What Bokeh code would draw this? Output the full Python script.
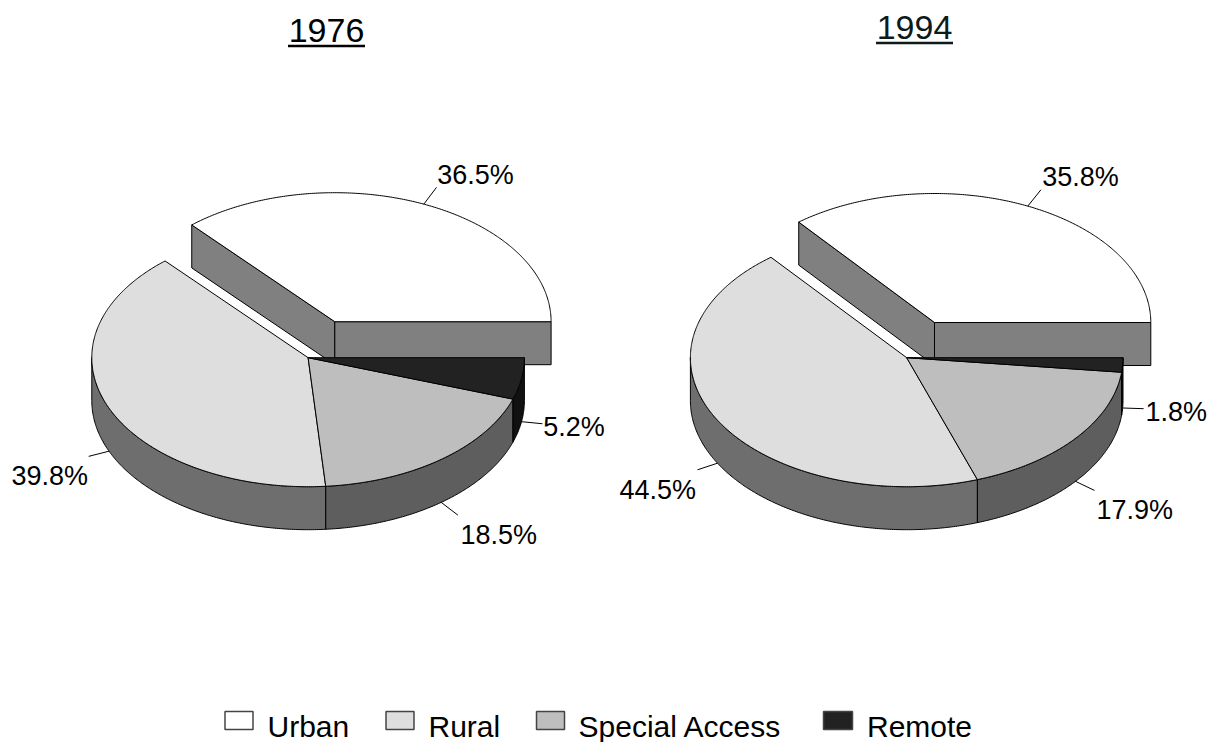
import numpy as np
from bokeh.core.properties import value
from bokeh.embed import file_html
from bokeh.models import Range1d
from bokeh.plotting import figure
from bokeh.resources import INLINE

# ---- data ----
SERIES = ["Urban", "Rural", "Special Access", "Remote"]
YEARS = ["1976", "1994"]
SHARES_1976 = [36.5, 39.8, 18.5, 5.2]
SHARES_1994 = [35.8, 44.5, 17.9, 1.8]
TOP_COLORS = ["#ffffff", "#dedede", "#bebebe", "#222222"]
SIDE_COLORS = ["#808080", "#6e6e6e", "#5e5e5e", "#111111"]

# ---- layout (page pixels) ----
RX, RY, DEPTH = 216.3, 129, 43
LEADER = 21
FONT = value("Liberation Sans")
PIES = [
    dict(center=(307.6, 357.2), exploded=(334.3, 321.2), shares=SHARES_1976,
         label_at=[(436.7, 184), (11, 485), (460, 544.5), (542.7, 435.7)],
         title_x=326, title_base=42, rule=(287.5, 364.5, 45.5), title_color="#000000"),
    dict(center=(906.2, 357.2), exploded=(934.0, 322), shares=SHARES_1994,
         label_at=[(1041.7, 186), (619, 499.3), (1096, 519), (1145, 420.7)],
         title_x=914, title_base=39, rule=(875.5, 952.5, 42.5), title_color="#0d1a1a"),
]
LEGEND_SWATCH = [(224.5, 252.5), (385.5, 413.5), (536, 564), (823, 852)]
LEGEND_TEXT = [267, 428, 578, 866.5]
LEGEND_Y = (711, 729)
LEGEND_BASE = 736.5
CAP = 0.358  # half the cap height, in em: glyphs are placed by their middle

p = figure(width=1210, height=742, output_backend="svg", toolbar_location=None,
           x_range=Range1d(0, 1210), y_range=Range1d(742, 0),
           x_axis_location=None, y_axis_location=None, min_border=0,
           outline_line_color=None, background_fill_color="white")
p.grid.visible = False


def put_text(x, base, s, size, color="black", align="left"):
    p.text([x], [base - CAP * size], text=[s], text_font=FONT,
           text_font_size=f"{size}px", text_color=color,
           text_align=align, text_baseline="middle")


def arc(c, a0, a1, drop=0.0):
    t = np.radians(np.linspace(a0, a1, max(int(abs(a1 - a0) * 2), 2)))
    return c[0] + RX * np.cos(t), c[1] - RY * np.sin(t) + drop


def poly(xs, ys, color):
    p.patch(list(xs), list(ys), fill_color=color, line_color="black", line_width=1,
            line_join="round")


def draw_pie(pie):
    shares = pie["shares"]
    edges = np.concatenate([[0.0], np.cumsum(shares) * 3.6])
    edges[-1] = 360.0
    c, e = pie["center"], pie["exploded"]

    # exploded Urban wedge: two radial walls and its top
    for ang in (edges[1], 0.0):
        ax, ay = arc(e, ang, ang)
        ex, ey = ax[0], ay[0]
        poly([e[0], ex, ex, e[0]], [e[1], ey, ey + DEPTH, e[1] + DEPTH], SIDE_COLORS[0])
    ax, ay = arc(e, 0.0, edges[1])
    poly(np.r_[e[0], ax], np.r_[e[1], ay], TOP_COLORS[0])

    # rim of the remaining wedges, lower half only
    for i in range(1, len(shares)):
        a0, a1 = max(edges[i], 180.0), edges[i + 1]
        tx, ty = arc(c, a0, a1)
        bx, by = arc(c, a1, a0, DEPTH)
        poly(np.r_[tx, bx], np.r_[ty, by], SIDE_COLORS[i])

    # tops of the remaining wedges
    for i in range(1, len(shares)):
        ax, ay = arc(c, edges[i], edges[i + 1])
        poly(np.r_[c[0], ax], np.r_[c[1], ay], TOP_COLORS[i])

    # leaders and labels
    for i, s in enumerate(shares):
        mid = (edges[i] + edges[i + 1]) / 2
        org = e if i == 0 else c
        drop = 0 if i == 0 else DEPTH
        dx, dy = RX * np.cos(np.radians(mid)), -RY * np.sin(np.radians(mid))
        n = np.hypot(dx, dy)
        x0, y0 = org[0] + dx, org[1] + dy + drop
        p.line([x0, x0 + dx / n * LEADER], [y0, y0 + dy / n * LEADER],
               line_color="black", line_width=1)
        lx, ly = pie["label_at"][i]
        put_text(lx, ly, f"{s:.1f}%", 27)


for pie, year in zip(PIES, YEARS):
    draw_pie(pie)
    put_text(pie["title_x"], pie["title_base"], year, 34, pie["title_color"], "center")
    x0, x1, y = pie["rule"]
    p.line([x0, x1], [y, y], line_color=pie["title_color"], line_width=2.5)

for name, col, (x0, x1), tx in zip(SERIES, TOP_COLORS, LEGEND_SWATCH, LEGEND_TEXT):
    p.quad(left=[x0], right=[x1], top=[LEGEND_Y[0]], bottom=[LEGEND_Y[1]],
           fill_color=col, line_color="#444444", line_width=1.5)
    put_text(tx, LEGEND_BASE, name, 30)

open("out.html", "w").write(file_html(p, INLINE))
